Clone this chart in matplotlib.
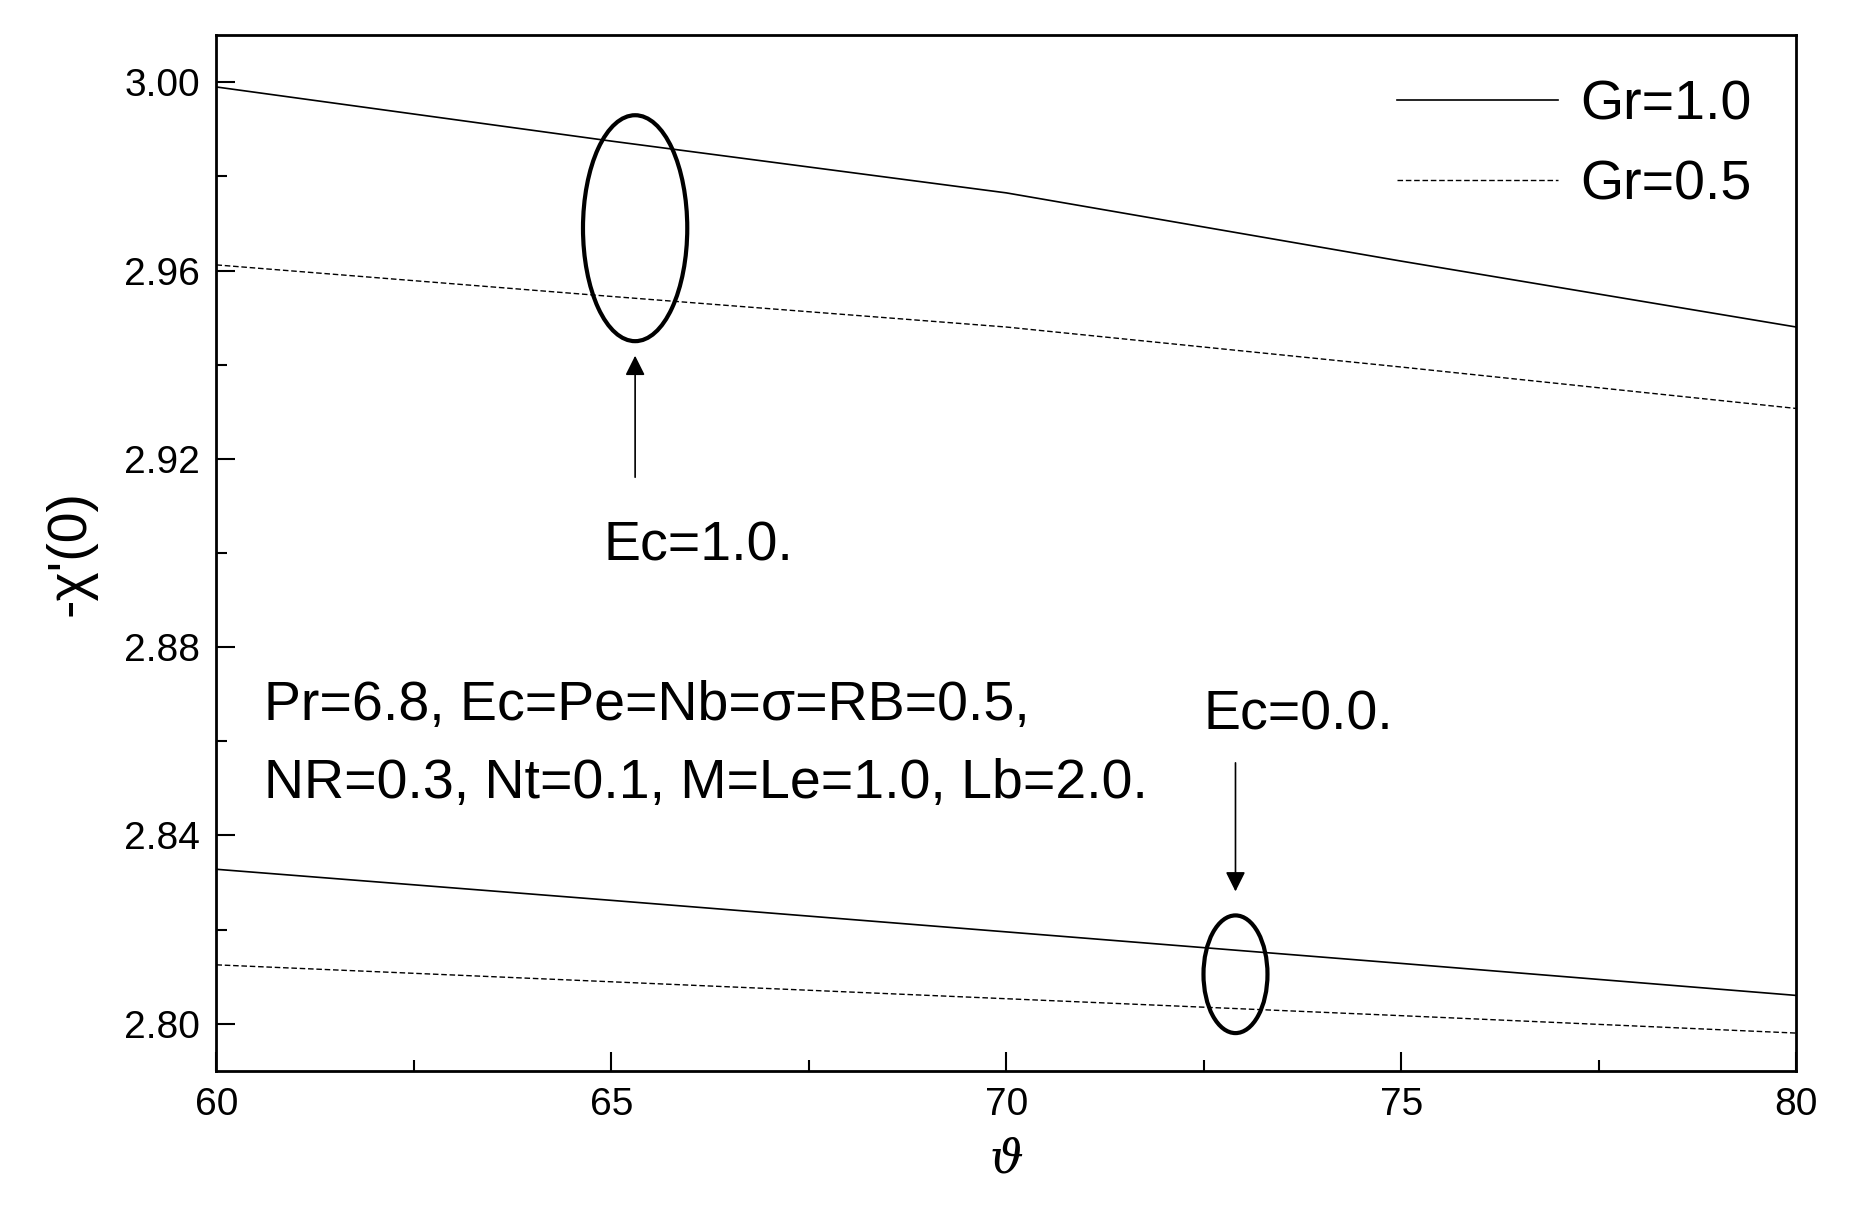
import matplotlib.pyplot as plt
from matplotlib.patches import Ellipse
from matplotlib.ticker import MultipleLocator

plt.rcParams["font.family"] = ["Liberation Sans", "DejaVu Sans"]

theta = [60, 65, 70, 75, 80]
gr1_ec1 = [2.999, 2.9875, 2.9765, 2.962, 2.948]
gr05_ec1 = [2.9612, 2.9545, 2.948, 2.9395, 2.9307]
gr1_ec0 = [2.8328, 2.8262, 2.8195, 2.8128, 2.806]
gr05_ec0 = [2.8125, 2.8089, 2.8053, 2.8017, 2.798]

fig = plt.figure(figsize=(18.5, 12.14), dpi=100)
ax = fig.add_axes([0.117, 0.118, 0.854, 0.853])

l1, = ax.plot(theta, gr1_ec1, color="black", lw=1.2, label="Gr=1.0")
l2, = ax.plot(theta, gr05_ec1, color="black", lw=1.0, ls=(0, (4, 2)), label="Gr=0.5")
ax.plot(theta, gr1_ec0, color="black", lw=1.2)
ax.plot(theta, gr05_ec0, color="black", lw=1.0, ls=(0, (4, 2)))

ax.add_patch(Ellipse((65.3, 2.969), 1.32, 0.048, fill=False, lw=3, color="black"))
ax.add_patch(Ellipse((72.9, 2.8105), 0.81, 0.025, fill=False, lw=3, color="black"))

ax.annotate("", xy=(65.3, 2.9425), xytext=(65.3, 2.9155),
            arrowprops=dict(arrowstyle="-|>", color="black", lw=1.2, mutation_scale=30))
ax.annotate("", xy=(72.9, 2.8275), xytext=(72.9, 2.856),
            arrowprops=dict(arrowstyle="-|>", color="black", lw=1.2, mutation_scale=30))

ax.text(64.9, 2.8985, "Ec=1.0.", fontsize=40)
ax.text(72.5, 2.8625, "Ec=0.0.", fontsize=40)
ax.text(60.6, 2.8645, "Pr=6.8, Ec=Pe=Nb=\u03c3=RB=0.5,", fontsize=40)
ax.text(60.6, 2.848, "NR=0.3, Nt=0.1, M=Le=1.0, Lb=2.0.", fontsize=40)

ax.legend(handles=[l1, l2], loc="upper right", frameon=False, fontsize=40,
          handlelength=2.9, handletextpad=0.4, labelspacing=0.5,
          borderaxespad=0.4)

ax.set_xlim(60, 80)
ax.set_ylim(2.79, 3.01)
ax.xaxis.set_major_locator(MultipleLocator(5))
ax.xaxis.set_minor_locator(MultipleLocator(2.5))
ax.yaxis.set_major_locator(MultipleLocator(0.04))
ax.yaxis.set_minor_locator(MultipleLocator(0.02))
ax.yaxis.set_major_formatter(plt.FormatStrFormatter("%.2f"))
ax.tick_params(which="both", direction="in", labelsize=28, width=1.5)
ax.tick_params(which="major", length=14, pad=12)
ax.tick_params(which="minor", length=8)
for s in ax.spines.values():
    s.set_linewidth(2)

ax.set_xlabel("\u03d1", fontsize=34, family="DejaVu Serif", style="italic", labelpad=10)
ax.set_ylabel("-\u03c7'(0)", fontsize=40, labelpad=20)

fig.savefig("out.png", dpi=100)
